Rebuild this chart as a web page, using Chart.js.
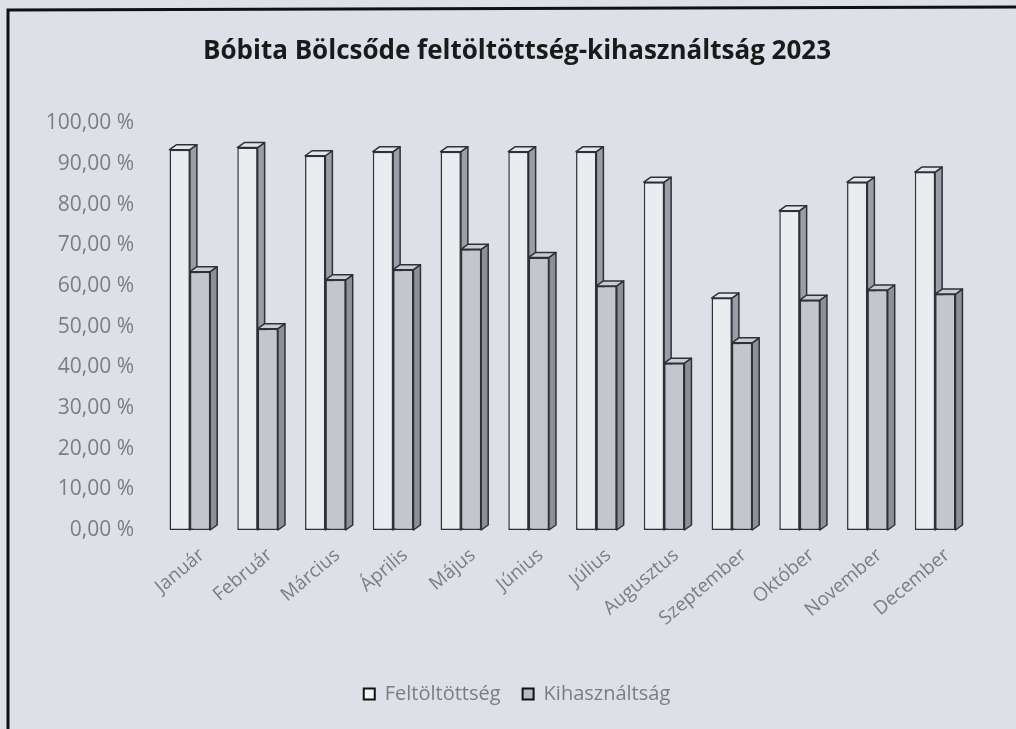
<!DOCTYPE html>
<html>
<head>
<meta charset="utf-8">
<script src="https://cdn.jsdelivr.net/npm/chart.js@4/dist/chart.umd.min.js"></script>
<style>
  html, body { margin: 0; padding: 0; background: #dde0e7; overflow: hidden; }
  #wrap { width: 1016px; height: 729px; }
  canvas { display: block; }
</style>
</head>
<body>
<div id="wrap"><canvas id="occChart" width="1016" height="729"></canvas></div>
<script>
// data
const months = ['Január', 'Február', 'Március', 'Április', 'Május', 'Június',
                'Július', 'Augusztus', 'Szeptember', 'Október', 'November', 'December'];
const feltoltottseg = [93.5, 94, 92, 93, 93, 93, 93, 85.5, 57, 78.5, 85.5, 88];
const kihasznaltsag = [63.5, 49.5, 61.5, 64, 69, 67, 60, 41, 46, 56.5, 59, 58];
const yTicks = [0, 10, 20, 30, 40, 50, 60, 70, 80, 90, 100];

const depthX = 7;
const depthY = 5;
const fontFam = 'Open Sans';
const greyText = '#7b7d82';

// page background + scanned frame edge (top and left only)
const frame = {
    id: 'frame',
    beforeDraw(chart) {
        const ctx = chart.ctx;
        ctx.save();
        ctx.fillStyle = '#dde0e7';
        ctx.fillRect(0, 0, chart.width, chart.height);
        ctx.strokeStyle = '#111';
        ctx.lineWidth = 3;
        ctx.beginPath();
        ctx.moveTo(8, chart.height);
        ctx.lineTo(8, 10);
        ctx.lineTo(chart.width, 7);
        ctx.stroke();
        ctx.restore();
    }
};

// fake 3D: side and top faces behind the flat bar fronts
const bars3d = {
    id: 'bars3d',
    beforeDatasetsDraw(chart) {
        const ctx = chart.ctx;
        const sideCols = ['#9a9ea6', '#8c9098'];
        const topCols = ['#e4e6ea', '#c9ccd2'];
        ctx.save();
        ctx.strokeStyle = '#2e3136';
        ctx.lineWidth = 1.5;
        ctx.lineJoin = 'round';
        chart.data.datasets.forEach((ds, di) => {
            const meta = chart.getDatasetMeta(di);
            meta.data.forEach(el => {
                const p = el.getProps(['x', 'y', 'base', 'width'], true);
                const l = p.x - p.width / 2, r = p.x + p.width / 2;
                const t = p.y, b = p.base;
                // side
                ctx.fillStyle = sideCols[di];
                ctx.beginPath();
                ctx.moveTo(r, t);
                ctx.lineTo(r + depthX, t - depthY);
                ctx.lineTo(r + depthX, b - depthY);
                ctx.lineTo(r, b);
                ctx.closePath();
                ctx.fill();
                ctx.stroke();
                // top
                ctx.fillStyle = topCols[di];
                ctx.beginPath();
                ctx.moveTo(l, t);
                ctx.lineTo(l + depthX, t - depthY);
                ctx.lineTo(r + depthX, t - depthY);
                ctx.lineTo(r, t);
                ctx.closePath();
                ctx.fill();
                ctx.stroke();
            });
        });
        ctx.restore();
    }
};

const ctx = document.getElementById('occChart').getContext('2d');
const occChart = new Chart(ctx, {
    type: 'bar',
    data: {
        labels: months,
        datasets: [
            {
                label: 'Feltöltöttség',
                data: feltoltottseg,
                backgroundColor: '#eaecef',
                borderColor: '#2e3136',
                borderWidth: 1.5,
                borderSkipped: false
            },
            {
                label: 'Kihasználtság',
                data: kihasznaltsag,
                backgroundColor: '#c3c6cc',
                borderColor: '#2e3136',
                borderWidth: 1.5,
                borderSkipped: false
            }
        ]
    },
    options: {
        responsive: false,
        animation: false,
        layout: {
            padding: { left: 18, right: 0, top: 0, bottom: 15 }
        },
        datasets: {
            bar: { categoryPercentage: 0.6, barPercentage: 1.0 }
        },
        plugins: {
            title: {
                display: true,
                text: 'Bóbita Bölcsőde feltöltöttség-kihasználtság 2023',
                color: '#1a1a1a',
                font: { family: fontFam, size: 26, weight: 'bold' },
                padding: { top: 36, bottom: 56 }
            },
            legend: {
                display: true,
                position: 'bottom',
                labels: {
                    color: greyText,
                    font: { family: fontFam, size: 20 },
                    boxWidth: 11,
                    boxHeight: 11,
                    padding: 22,
                    generateLabels(chart) {
                        return chart.data.datasets.map((ds, i) => ({
                            text: ds.label,
                            fillStyle: i === 0 ? '#f4f5f7' : '#b9bcc2',
                            strokeStyle: '#111',
                            lineWidth: 2,
                            fontColor: greyText,
                            datasetIndex: i
                        }));
                    }
                }
            },
            tooltip: { enabled: false }
        },
        scales: {
            x: {
                grid: { display: false, drawTicks: false },
                border: { display: false },
                ticks: {
                    color: greyText,
                    font: { family: fontFam, size: 19 },
                    maxRotation: 40,
                    minRotation: 40,
                    padding: 14,
                    labelOffset: 12,
                    autoSkip: false
                },
                afterFit(scale) { scale.height = 132; }
            },
            y: {
                min: 0,
                max: 100,
                afterBuildTicks(scale) {
                    scale.ticks = yTicks.map(v => ({ value: v }));
                },
                grid: { display: false, drawTicks: false },
                border: { display: false },
                ticks: {
                    color: greyText,
                    font: { family: fontFam, size: 21 },
                    padding: 22,
                    callback: v => v.toFixed(2).replace('.', ',') + ' %'
                },
                afterFit(scale) { scale.width = 138; }
            },
            // empty right axis, only to hold the plot away from the right edge
            yRight: {
                position: 'right',
                display: true,
                min: 0,
                max: 100,
                grid: { display: false, drawTicks: false },
                border: { display: false },
                ticks: { display: false },
                afterFit(scale) { scale.width = 47; }
            }
        }
    },
    plugins: [frame, bars3d]
});
</script>
</body>
</html>
